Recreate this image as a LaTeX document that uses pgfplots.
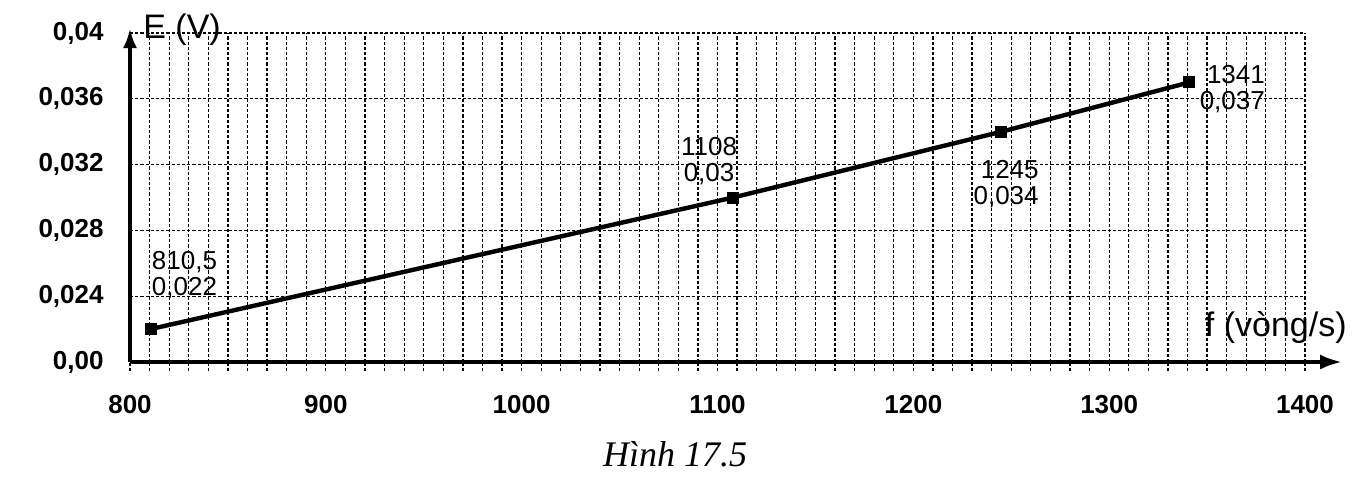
\documentclass[border=0pt]{standalone}
\usepackage{pgfplots}
\pgfplotsset{compat=1.18}
\usepackage{fontspec}
\setmainfont{Liberation Sans}
\newfontfamily\capfont{Liberation Serif}
\usetikzlibrary{arrows.meta}
\begin{document}
\begin{tikzpicture}[x=1pt,y=1pt]
\path[use as bounding box] (0,0) rectangle (679,244);
\begin{axis}[
  at={(65pt,63pt)}, anchor=south west,
  scale only axis, width=587.5pt, height=164.5pt,
  xmin=800, xmax=1400, ymin=0.02, ymax=0.04,
  axis line style={draw=none},
  clip=false,
  xtick={800,900,1000,1100,1200,1300,1400},
  xticklabels={800,900,1000,1100,1200,1300,1400},
  minor x tick num=9,
  ytick={0.02,0.024,0.028,0.032,0.036,0.04},
  yticklabels={{0,00},{0,024},{0,028},{0,032},{0,036},{0,04}},
  scaled y ticks=false, scaled x ticks=false,
  /pgf/number format/assume math mode=true,
  xtick pos=bottom, ytick pos=left,
  tick align=outside,
  major tick length=4.5pt, minor tick length=4.5pt,
  xtick style={black, line width=0.6pt, dash pattern=on 1.5pt off 1pt},
  minor tick style={black, line width=0.6pt, dash pattern=on 1.5pt off 1pt},
  ytick style={draw=none},
  xmajorgrids, xminorgrids, ymajorgrids,
  major grid style={black, line width=0.6pt, dash pattern=on 1.6pt off 1pt},
  minor grid style={black, line width=0.6pt, dash pattern=on 1.6pt off 1pt},
  xticklabel style={font=\bfseries\fontsize{13}{15}\selectfont, anchor=north, inner sep=0pt, yshift=-12pt},
  yticklabel style={font=\bfseries\fontsize{13}{15}\selectfont, anchor=east, inner sep=0pt, xshift=-8.5pt},
]
\addplot[black, line width=2.2pt, mark=square*, mark size=1.9pt]
  coordinates {(810.5,0.022) (1108,0.03) (1245,0.034) (1341,0.037)};
\draw[line width=2pt, -{Latex[length=11pt,width=7.5pt]}] (axis cs:800,0.02) -- (axis cs:1419,0.02);
\draw[line width=2pt, -{Latex[length=10pt,width=7pt]}] (axis cs:800,0.02) -- (axis cs:800,0.0403);
\node[font=\fontsize{13}{13}\selectfont, align=left, anchor=west, inner sep=0pt] at (axis cs:811,0.0253) {810,5\\0,022};
\node[font=\fontsize{13}{13}\selectfont, align=center, anchor=center, inner sep=0pt] at (axis cs:1095.7,0.0322) {1108\\0,03};
\node[font=\fontsize{13}{13}\selectfont, align=right, anchor=east, inner sep=0pt] at (axis cs:1264.2,0.0308) {1245\\0,034};
\node[font=\fontsize{13}{13}\selectfont, align=right, anchor=east, inner sep=0pt] at (axis cs:1379.7,0.0366) {1341\\0,037};
\end{axis}
\node[font=\fontsize{17}{17}\selectfont, anchor=west, inner sep=0pt] at (71.5,229) {E (V)};
\node[font=\fontsize{17}{17}\selectfont, anchor=east, inner sep=0pt] at (673.5,80) {f (vòng/s)};
\node[font=\capfont\itshape\fontsize{18}{18}\selectfont, anchor=center, inner sep=0pt] at (337.5,17) {Hình 17.5};
\end{tikzpicture}
\end{document}
